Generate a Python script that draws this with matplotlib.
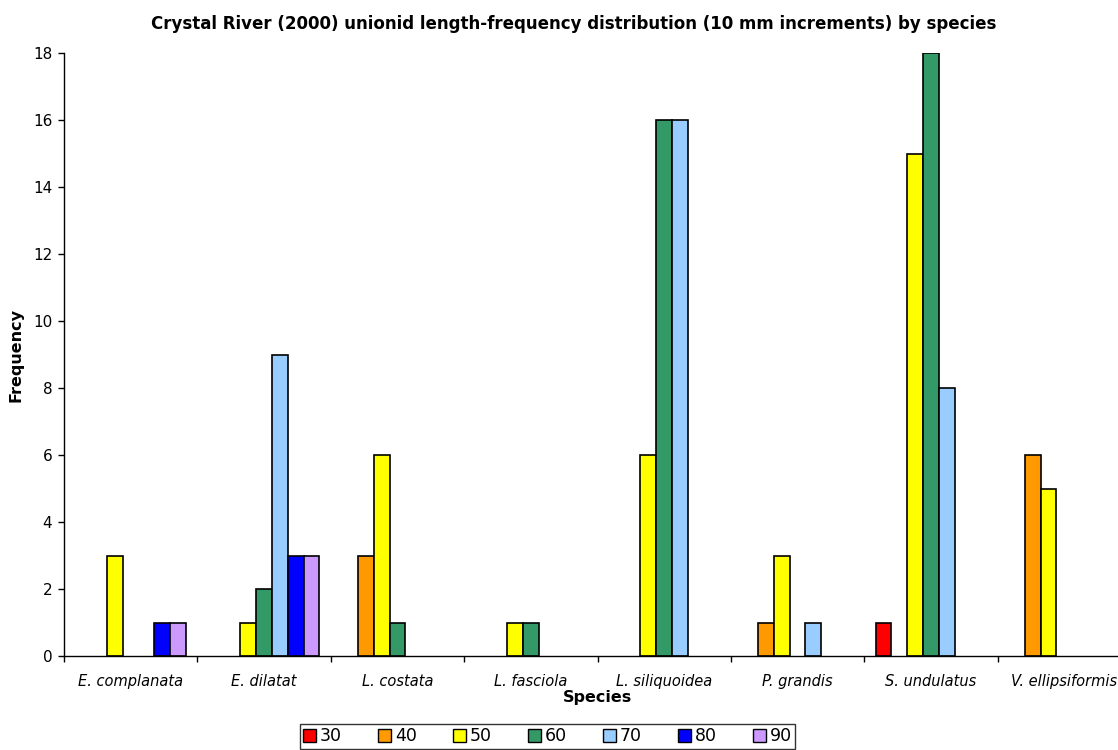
import matplotlib
matplotlib.use("Agg")
import matplotlib.pyplot as plt
import numpy as np
from matplotlib.patches import Patch

plt.rcParams['font.family'] = ['DejaVu Sans']

species = ["E. complanata", "E. dilatat", "L. costata", "L. fasciola",
           "L. siliquoidea", "P. grandis", "S. undulatus", "V. ellipsiformis"]
size_classes = ["30", "40", "50", "60", "70", "80", "90"]
freq_30 = [0, 0, 0, 0, 0, 0, 1, 0]
freq_40 = [0, 0, 3, 0, 0, 1, 0, 6]
freq_50 = [3, 1, 6, 1, 6, 3, 15, 5]
freq_60 = [0, 2, 1, 1, 16, 0, 18, 0]
freq_70 = [0, 9, 0, 0, 16, 1, 8, 0]
freq_80 = [1, 3, 0, 0, 0, 0, 0, 0]
freq_90 = [1, 3, 0, 0, 0, 0, 0, 0]
series = [freq_30, freq_40, freq_50, freq_60, freq_70, freq_80, freq_90]
colors = ["#FF0000", "#FF9900", "#FFFF00", "#339966", "#99CCFF", "#0000FF", "#CC99FF"]

fig = plt.figure(figsize=(11.18, 7.5), dpi=100)
ax = fig.add_axes([64/1118, 94/750, 1067/1118, 603/750])

x = np.arange(len(species))
bw = 0.1185
n = len(series)
for k, (vals, c) in enumerate(zip(series, colors)):
    offs = (k - (n - 1) / 2) * bw
    v = np.array(vals, dtype=float)
    mask = v > 0
    ax.bar(x[mask] + offs, v[mask], width=bw, color=c, edgecolor='black', linewidth=1.2)

ax.set_xlim(-0.5, len(species) - 0.5)
ax.set_ylim(0, 18)
ax.set_yticks(range(0, 19, 2))
ax.set_xticks(np.arange(-0.5, len(species), 1.0))
ax.set_xticklabels([])
ax.set_xticks(x, minor=True)
ax.set_xticklabels(species, minor=True, fontstyle='italic', fontsize=10.5)
ax.tick_params(axis='x', which='minor', length=0, pad=13)
ax.tick_params(axis='x', which='major', direction='out', length=4, width=1)
ax.tick_params(axis='y', direction='out', length=4.5, width=1, labelsize=11, pad=4)
for s in ['top', 'right']:
    ax.spines[s].set_visible(False)
for s in ['left', 'bottom']:
    ax.spines[s].set_linewidth(1)

ax.set_xlabel("Species", fontsize=11.5, fontweight='bold', labelpad=1)
ax.set_ylabel("Frequency", fontsize=11.5, fontweight='bold', labelpad=7)
fig.text(574/1118, 1 - 24/750,
         "Crystal River (2000) unionid length-frequency distribution (10 mm increments) by species",
         ha='center', va='center', fontsize=12, fontweight='bold')

handles = [Patch(facecolor=c, edgecolor='black', linewidth=1) for c in colors]
leg = fig.legend(handles, size_classes, loc='upper left', ncol=7,
                 bbox_to_anchor=(300/1118, 1 - 724/750), borderaxespad=0,
                 fontsize=12.5, frameon=True, fancybox=False, edgecolor='black',
                 handlelength=0.75, handleheight=0.75, handletextpad=0.2,
                 columnspacing=2.1, borderpad=0.2)
leg.get_frame().set_linewidth(1)

fig.savefig("out.png", dpi=100)
